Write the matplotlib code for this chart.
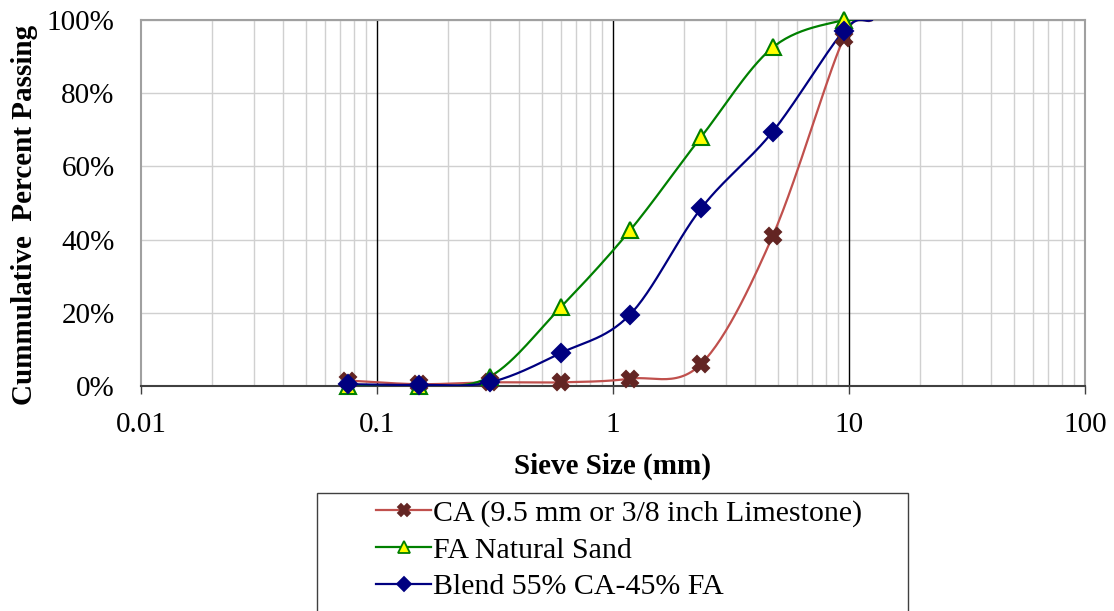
import numpy as np
import matplotlib.pyplot as plt
from matplotlib.patches import Rectangle
from matplotlib.ticker import FuncFormatter, NullFormatter, LogLocator, FixedLocator

plt.rcParams['font.family'] = ['Liberation Serif', 'DejaVu Serif']

# sieve sizes (mm) and cumulative passing (%)
sieve = [0.075, 0.15, 0.3, 0.6, 1.18, 2.36, 4.75, 9.5, 12.5]
ca    = [1.5, 0.5, 1.0, 1.0, 2.0, 6.0, 41.0, 95.0, 100.0]
fa    = [0.0, 0.0, 2.5, 21.5, 42.5, 68.0, 92.5, 100.0, 100.0]
blend = [0.5, 0.3, 1.0, 9.0, 19.5, 48.5, 69.5, 97.0, 100.0]

labels = ["CA (9.5 mm or 3/8 inch Limestone)", "FA Natural Sand", "Blend 55% CA-45% FA"]


def smooth(x, y, n=30):
    # Catmull-Rom style smoothing in log-x space (like Excel "smoothed line")
    lx = np.log10(x)
    y = np.asarray(y, float)
    px = np.concatenate([[2 * lx[0] - lx[1]], lx, [2 * lx[-1] - lx[-2]]])
    py = np.concatenate([[2 * y[0] - y[1]], y, [2 * y[-1] - y[-2]]])
    xs, ys = [], []
    t = np.linspace(0, 1, n)
    for i in range(1, len(px) - 2):
        for P, out in ((px, xs), (py, ys)):
            p0, p1, p2, p3 = P[i - 1], P[i], P[i + 1], P[i + 2]
            out.append(0.5 * ((2 * p1) + (-p0 + p2) * t
                              + (2 * p0 - 5 * p1 + 4 * p2 - p3) * t ** 2
                              + (-p0 + 3 * p1 - 3 * p2 + p3) * t ** 3))
    return 10 ** np.concatenate(xs), np.clip(np.concatenate(ys), 0, 100)


W, H = 1114, 611
fig = plt.figure(figsize=(W / 100, H / 100), dpi=100)
ax = fig.add_axes([141 / W, 1 - 386 / H, (1085 - 141) / W, (386 - 20) / H])

series = [
    (ca, "#c0504d", "X", "#632523", "#632523", 11),
    (fa, "#008000", "^", "#ffff00", "#008000", 11),
    (blend, "#000080", "D", "#000080", "#000080", 9),
]
handles = []
for (vals, lc, mk, mfc, mec, ms), lab in zip(series, labels):
    sx, sy = smooth(sieve, vals)
    ax.plot(sx, sy, color=lc, lw=1.6, zorder=3)
    ax.plot(sieve[:-1], vals[:-1], ls="none", marker=mk, ms=ms, mfc=mfc,
            mec=mec, mew=1.5, zorder=4, clip_on=False)
    h, = ax.plot([], [], color=lc, lw=1.6, marker=mk, ms=ms - 2, mfc=mfc,
                 mec=mec, mew=1.3)
    handles.append(h)

ax.set_xscale("log")
ax.set_xlim(0.01, 100)
ax.set_ylim(0, 100)

ax.xaxis.set_major_locator(FixedLocator([0.01, 0.1, 1, 10, 100]))
ax.xaxis.set_major_formatter(FuncFormatter(lambda v, p: f"{v:g}"))
ax.xaxis.set_minor_locator(LogLocator(base=10, subs=np.arange(2, 10)))
ax.xaxis.set_minor_formatter(NullFormatter())
ax.set_yticks([0, 20, 40, 60, 80, 100])
ax.yaxis.set_major_formatter(FuncFormatter(lambda v, p: f"{v:.0f}%"))

ax.grid(True, which="minor", axis="x", color="#d0d0d0", lw=1.0)
ax.grid(True, which="major", axis="y", color="#d0d0d0", lw=1.0)
for d in [0.1, 1, 10]:
    ax.axvline(d, color="black", lw=1.0, zorder=2)
ax.set_axisbelow(True)

for s in ["top", "right", "left"]:
    ax.spines[s].set_color("#a0a0a0")
    ax.spines[s].set_linewidth(1.5)
ax.spines["bottom"].set_color("#404040")
ax.spines["bottom"].set_linewidth(1.5)

ax.tick_params(axis="x", which="major", direction="out", length=6, width=1,
               color="#404040", labelsize=21, pad=13)
ax.tick_params(axis="x", which="minor", length=0)
ax.tick_params(axis="y", length=0, labelsize=21, pad=19)

ax.set_xlabel("Sieve Size (mm)", fontsize=21, fontweight="bold", labelpad=10)
ax.set_ylabel("Cummulative  Percent Passing", fontsize=21, fontweight="bold")
ax.yaxis.set_label_coords(-(141 - 25) / (1085 - 141), (386 - 215) / (386 - 20))
ax.yaxis.label.set_va("center")

# legend box (runs past the bottom edge, as in the original)
fig.patches.append(Rectangle((317 / W, -0.05), (908 - 317) / W, 0.05 + (H - 493) / H,
                             transform=fig.transFigure, fill=False,
                             edgecolor="#404040", lw=1.0))
fig.legend(handles, labels, loc="upper left",
           bbox_to_anchor=(376 / W, 1 - 500 / H), fontsize=21.5,
           frameon=False, borderpad=0, labelspacing=0.32, handlelength=1.85,
           handletextpad=0.05, borderaxespad=0)

fig.savefig("out.png", dpi=100)
